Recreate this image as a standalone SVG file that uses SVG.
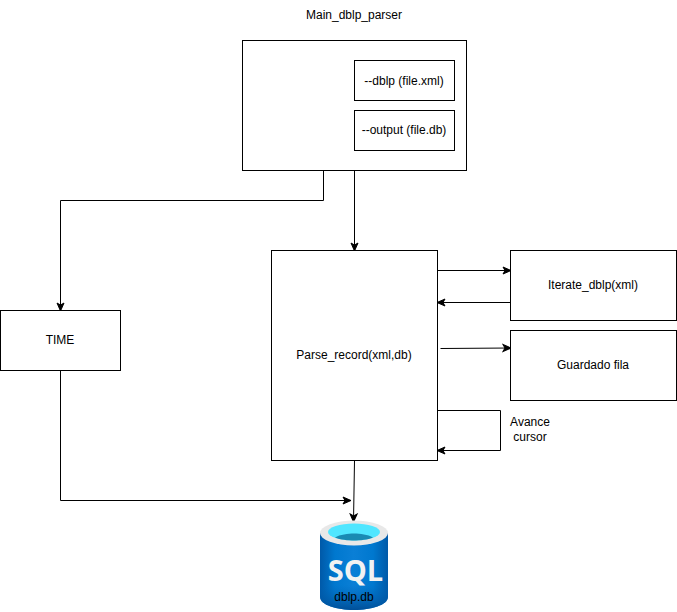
<svg xmlns="http://www.w3.org/2000/svg" width="677" height="612" viewBox="0 0 677 612">
<style>
.b{fill:#fff;stroke:#000;stroke-width:1}
.c{fill:none;stroke:#000;stroke-width:1}
text{font-family:"Liberation Sans",Arial,sans-serif;font-size:12px;fill:#000;text-anchor:middle}
</style>
<defs>
<marker id="a" markerUnits="userSpaceOnUse" markerWidth="12" markerHeight="12" refX="9" refY="5" orient="auto"><path d="M1 1.500 L9 5 L1 8.500 L3 5 Z" fill="#000" stroke="#000" stroke-width="1"/></marker>
<linearGradient id="cyl" x1="0" x2="1" y1="0" y2="0"><stop offset="0" stop-color="#0059a8"/><stop offset=".22" stop-color="#0078cf"/><stop offset=".5" stop-color="#0a7fd6"/><stop offset=".78" stop-color="#0078cf"/><stop offset="1" stop-color="#0059a8"/></linearGradient>
<linearGradient id="fade" x1="0" x2="0" y1="0" y2="1"><stop offset="0" stop-color="#0062b4" stop-opacity="0"/><stop offset="1" stop-color="#004f98"/></linearGradient>
</defs>
<g id="connectors">
<path class="c" d="M323.500 170.500 V200.500 H60.500 V311" marker-end="url(#a)"/>
<path class="c" d="M354.500 170.500 V251" marker-end="url(#a)"/>
<path class="c" d="M60.500 370.500 V500.500 H351" marker-end="url(#a)"/>
<path class="c" d="M354.500 460.500 L353.500 522" marker-end="url(#a)"/>
<path class="c" d="M437.500 270.500 H511" marker-end="url(#a)"/>
<path class="c" d="M510.500 302.500 H437" marker-end="url(#a)"/>
<path class="c" d="M440.500 348.500 L511 348" marker-end="url(#a)"/>
<path class="c" d="M437.500 410.500 H500.500 V450.500 H437" marker-end="url(#a)"/>
</g>
<g id="main-title"><text x="354" y="19">Main_dblp_parser</text></g>
<g id="main"><rect class="b" x="242.500" y="40.500" width="224" height="130"/></g>
<g id="dblp-arg"><rect class="b" x="354.500" y="60.500" width="100" height="40"/><text x="404" y="85">--dblp (file.xml)</text></g>
<g id="output-arg"><rect class="b" x="354.500" y="110.500" width="100" height="40"/><text x="404" y="134">--output (file.db)</text></g>
<g id="parse-record"><rect class="b" x="271.500" y="250.500" width="166" height="210"/><text x="354" y="359">Parse_record(xml,db)</text></g>
<g id="time"><rect class="b" x="0.500" y="310.500" width="120" height="60"/><text x="60" y="344">TIME</text></g>
<g id="iterate"><rect class="b" x="510.500" y="250.500" width="166" height="70"/><text x="593" y="289">Iterate_dblp(xml)</text></g>
<g id="guardado"><rect class="b" x="510.500" y="330.500" width="166" height="70"/><text x="593" y="369">Guardado fila</text></g>
<g id="avance"><text x="530" y="426">Avance</text><text x="530" y="441">cursor</text></g>
<g id="sql-db">
<path d="M320 533 V597 C320 605 337 610 354 610 C371 610 388 605 388 597 V533 Z" fill="url(#cyl)"/>
<path d="M320 585 V597 C320 605 337 610 354 610 C371 610 388 605 388 597 V585 Z" fill="url(#fade)"/>
<ellipse cx="354" cy="533" rx="34" ry="12.500" fill="#e8e8e8"/>
<ellipse cx="354" cy="532" rx="26" ry="8.500" fill="#50e6ff"/>
<path d="M335 537.500 C340 534.500 348 533.500 354 533.500 C360 533.500 368 534.500 373 537.500 C368 539.800 360 540.500 354 540.500 C348 540.500 340 539.800 335 537.500 Z" fill="#198ab3"/>
<text x="355.500" y="581" style="font-family:'Open Sans','Liberation Sans',sans-serif;font-size:29px;font-weight:700;fill:#f2f2f2">SQL</text>
<text x="354" y="601">dblp.db</text>
</g>
</svg>
